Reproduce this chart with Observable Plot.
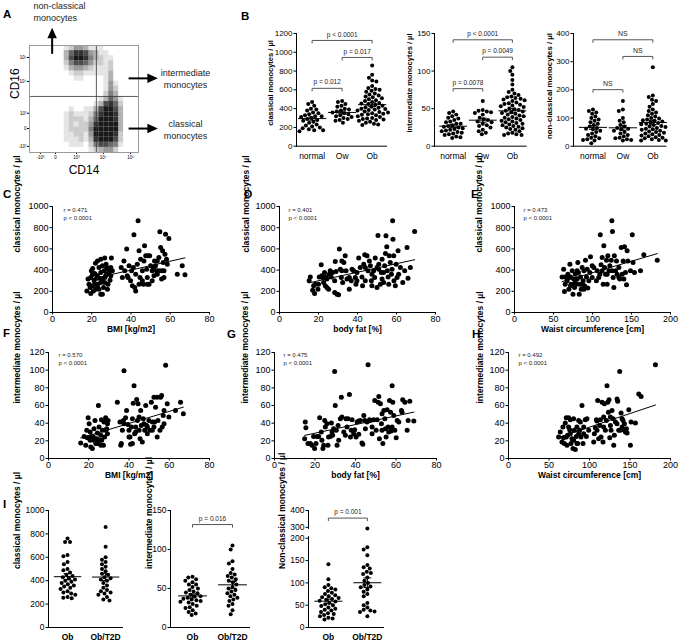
<!DOCTYPE html>
<html><head><meta charset="utf-8">
<script src="https://cdn.jsdelivr.net/npm/d3@7"></script>
<script src="https://cdn.jsdelivr.net/npm/@observablehq/plot@0.6"></script>
<style>
body{margin:0;background:#fff;}
#fig{position:relative;width:680px;height:643px;overflow:hidden;background:#fff;font-family:"Liberation Sans",Arial,sans-serif;}
.plet{position:absolute;font-weight:bold;font-size:11.5px;line-height:11.5px;font-family:"Liberation Sans",Arial,sans-serif;}
.vtitle{position:absolute;font-weight:bold;line-height:1;white-space:nowrap;transform:translate(-50%,-50%) rotate(-90deg);font-family:"Liberation Sans",Arial,sans-serif;color:#000;}
</style></head><body><div id="fig"></div>
<script>
// ================= DATA =================
// Panel A: flow cytometry density (rows top->bottom, cols left->right, 0-9)
const flowDensity = [
"0000000124431110000000",
"0000000368874311000000",
"0000000379985321100000",
"0000000257764221200000",
"0000000134432111200000",
"0000000012211111300000",
"0000000001100001300000",
"0000000000000001410000",
"0000000000000001420000",
"0000000000000002530000",
"0000000000000013641000",
"0000000000000137862000",
"0000000010011379973000",
"0000000121112589983000",
"0000000122213699983000",
"0000000121224899993000",
"0000000122225999993000",
"0000000112214999982000",
"0000000111213899972000",
"0000000011102577651000",
"0000000000001234420000"
];
const flowXTickPos = [2.2, 5.25, 9.5, 14.9, 20.4];
const flowXTickLab = ["-10³", "0", "10³", "10⁴", "10⁵"];
const flowYTickPos = [2.35, 7.06, 13.3, 16.3, 19.8];
const flowYTickLab = ["10⁵", "10⁴", "10³", "0", "-10³"];
const flowGateX = 13.5, flowGateY = 10.0;
const flowNotesLeft = [
  {x: 0.81, y: -7.65, t: "non-classical"},
  {x: 0.81, y: -5.3, t: "monocytes"}
];
const flowNotesCenter = [
  {x: 31.5, y: 5.5, t: "intermediate"},
  {x: 31.5, y: 7.85, t: "monocytes"},
  {x: 31.5, y: 15.5, t: "classical"},
  {x: 31.5, y: 17.86, t: "monocytes"}
];
const arrowShafts = [
  {x1: 4.57, y1: 1.63, x2: 4.57, y2: -1.6},
  {x1: 20.0, y1: 6.45, x2: 24.0, y2: 6.45},
  {x1: 20.0, y1: 16.3, x2: 24.0, y2: 16.3}
];
const arrowUpHeads = [{x: 4.57, y: -2.4}];
const arrowRightHeads = [{x: 24.8, y: 6.45}, {x: 24.8, y: 16.3}];

// Panel B: strip plots
const bGroups = ["normal", "Ow", "Ob"];
const bClassicalNormal = [470,450,430,400,390,380,360,350,340,330,320,320,310,300,290,280,270,260,250,230,220,210,200,190,180,170,170,160];
const bClassicalOw = [480,470,450,430,420,400,390,380,370,360,350,340,330,320,310,300,290,280,270,250];
const bClassicalOb = [860,760,730,700,690,640,620,610,600,590,580,560,550,540,530,520,510,500,490,480,470,460,455,450,440,430,420,415,410,400,395,390,385,380,370,365,360,350,345,340,335,330,320,310,300,295,290,285,280,270,260,250,240,230,225];
const bClassicalBrackets = [
  {a: 0, b: 2, v: 1126, t: "p < 0.0001"},
  {a: 1, b: 2, v: 945, t: "p = 0.017"},
  {a: 0, b: 1, v: 616, t: "p = 0.012"}
];
const bInterNormal = [46,44,42,40,38,37,35,33,32,30,30,28,27,26,25,24,23,22,21,20,19,18,17,16,15,13,12,11];
const bInterOw = [60,48,47,46,45,44,42,38,36,35,33,32,30,28,27,25,22,20,18,16];
const bInterOb = [105,100,95,88,82,75,72,70,68,66,65,64,63,62,61,60,58,57,56,55,54,53,52,50,49,48,47,46,45,44,43,42,41,40,39,38,37,36,35,34,33,32,31,30,29,28,27,26,25,24,23,22,20,18,17,16,15,15];
const bInterBrackets = [
  {a: 0, b: 2, v: 141.6, t: "p < 0.0001"},
  {a: 1, b: 2, v: 118.5, t: "p = 0.0049"},
  {a: 0, b: 1, v: 76.6, t: "p = 0.0078"}
];
const bNonNormal = [130,125,120,115,105,100,95,90,85,80,75,70,65,62,60,55,50,45,40,35,30,28,25,22,20,10];
const bNonOw = [160,130,125,100,90,85,75,70,65,62,60,55,50,45,40,35,30,28,25,22,20];
const bNonOb = [280,180,175,165,160,150,140,130,125,120,115,110,105,100,98,95,92,90,88,85,82,80,78,75,72,70,68,65,62,60,58,55,52,50,48,45,42,40,38,35,32,30,28,25,22,20,20];
const bNonBrackets = [
  {a: 0, b: 2, v: 377.7, t: "NS"},
  {a: 1, b: 2, v: 318.6, t: "NS"},
  {a: 0, b: 1, v: 200.7, t: "NS"}
];

// Panels C-H: scatter [x, y]
const cBmiClassical = [[17.5,204],[19.5,179],[20.3,252],[20.5,415],[21.9,465],[22.9,487],[24.6,503],[26.6,513],[30,513],[21.5,368],[22.4,324],[23.2,267],[23.7,220],[24.6,173],[25.4,173],[28,220],[28.3,267],[29.7,346],[30.5,393],[26.3,393],[27.6,425],[24.6,377],[22.9,346],[21.2,299],[19.5,330],[18.6,267],[18.1,315],[25.4,315],[26.6,283],[27.1,346],[28.8,377],[23.7,425],[25.4,440],[22,220],[20.8,204],[19.2,236],[24.6,283],[22.9,252],[29.3,305],[27.6,362],[20.3,355],[26,236],[28.3,409],[29.7,425],[26.6,330],[23.9,324],[21.7,267],[19.8,393],[27.3,456],[29,393],[36.4,487],[36.8,393],[37.8,598],[38.5,330],[39,440],[39.8,299],[40.3,393],[41.2,425],[41.5,733],[41.9,236],[42.4,362],[43.2,456],[43.6,865],[44.1,267],[44.6,330],[44.9,503],[45.8,393],[46.3,267],[46.9,629],[47.5,535],[48,409],[48.3,330],[48.6,535],[49.2,267],[50,440],[50.8,393],[51.4,425],[51.7,346],[52.5,440],[53,393],[53.4,487],[54.2,519],[54.7,761],[55.1,613],[55.6,315],[56.1,582],[56.4,472],[56.8,393],[57.3,550],[57.6,739],[58.1,503],[58.5,456],[59.3,698],[55.6,393],[53.4,362],[50.8,299],[48.3,267],[45.8,299],[42.4,204],[40.7,252],[38.1,346],[35,425],[35.6,330],[63.6,362],[66.1,440],[67.5,355],[49.5,535],[44.1,582],[46.6,487],[54.2,393],[52,487],[56.8,330]];
const dFatClassical = [[15.2,299],[15.8,336],[17,211],[18,179],[17.5,252],[19.7,220],[20.4,336],[21.4,450],[21.7,346],[22.6,283],[23.1,377],[23.8,336],[24.3,236],[25.2,220],[25.5,362],[26.5,336],[27.2,377],[28.3,189],[28.6,481],[29.5,173],[30.3,167],[30.7,598],[31.2,409],[31.7,330],[32,487],[32.4,283],[33,472],[33.7,535],[34.1,393],[35.8,220],[36.8,299],[37.2,409],[38,393],[38.9,330],[39.7,377],[40.6,513],[41.4,425],[42.3,336],[43.2,456],[43.7,544],[44,299],[44.9,535],[45.4,393],[46.1,487],[46.6,440],[47.4,252],[48.3,393],[48.8,330],[49.1,513],[50,236],[50.5,726],[50.9,409],[51.7,267],[52.2,377],[52.6,503],[53.4,283],[53.9,440],[54.3,557],[54.6,723],[55,620],[55.3,393],[55.7,336],[56.3,535],[56.8,472],[57.4,362],[58,865],[58.2,692],[58.6,535],[58.7,299],[59.4,252],[59.8,456],[60.3,330],[60.8,582],[61.1,362],[62,425],[63.2,283],[64.2,393],[65.4,613],[65.9,324],[67.1,425],[69.3,764],[52.6,315],[50,425],[47.4,362],[44,425],[39.7,299],[34.6,315],[32,393],[28.3,299],[23.5,252],[20,267],[57.7,409],[56,267],[53.4,377],[50.9,456],[47.1,299],[42.6,252],[39.2,267],[35.8,330],[29,387],[26,393],[24.3,315],[22.1,330],[18.3,267]];
const eWaistClassical = [[61,336],[63,409],[64,198],[65,267],[67.5,299],[68.4,362],[69.7,220],[71,456],[71.8,336],[72.6,267],[74,393],[75,173],[76,315],[77,236],[78,362],[79.5,267],[80.3,315],[81.2,472],[82,377],[83,173],[83.8,267],[84.6,336],[85.5,220],[86.8,425],[88,299],[89,393],[89.7,252],[91,493],[92.3,336],[93.2,409],[94,230],[96.6,377],[97.4,525],[99.6,330],[101.7,425],[105,299],[108,330],[109.4,362],[110,733],[111,450],[112.4,393],[113.7,267],[114.5,629],[115.4,425],[116.7,362],[118,493],[118.8,267],[119.7,535],[121,393],[122.2,440],[124,493],[124.8,865],[125.6,764],[126.5,330],[127.4,236],[128,535],[129.5,393],[130.8,487],[131.6,362],[133.8,425],[135,315],[136.8,613],[138,362],[139.3,487],[140.2,315],[141,620],[142.3,377],[143.6,261],[144.4,582],[145.3,487],[148.7,393],[151,733],[152,472],[153.8,377],[161.5,393],[165.8,544],[183,493],[106,393],[99.6,440],[112.4,519],[118.8,362],[125,393],[133.8,330],[86.8,267],[78,299],[71.8,252],[67.5,336],[80.3,393],[95.3,299],[89,220],[76,267],[65,336]];
const fBmiInter = [[16,17.6],[18.5,15],[19.3,23.6],[19.7,46],[20.2,39.4],[20.7,30],[21,13],[21.8,11.2],[22.3,24.4],[22.6,33.7],[23.5,16.9],[24,22.5],[24.3,28.9],[24.8,60],[25.1,35.6],[25.6,20.6],[26,26.2],[26.3,43.9],[26.8,31.9],[27.3,15],[27.6,41.2],[27.9,24.4],[28.4,46],[28.9,33.7],[29.3,28.1],[29.6,43.1],[17.7,25],[19,31.9],[21.3,25],[23.1,43.1],[26.4,20.6],[28.4,31.9],[20.7,20.6],[24.3,16.9],[26,15],[22.6,20.6],[29.3,39.4],[34.2,63.7],[35.5,41.2],[36.2,16.9],[36.7,31.9],[37.2,43.1],[37.5,99.4],[38.3,46],[38.8,54.4],[39.5,38.6],[40,31.9],[40.5,24.4],[40.8,16.1],[41.2,35.6],[41.7,45],[42.1,62.6],[42.5,82.5],[42.8,28.1],[43.3,35.6],[43.8,66.7],[44.2,43.1],[44.5,61.9],[45,31.9],[45.5,22.5],[45.8,54.4],[46.1,37.5],[46.6,18.7],[47.1,45],[47.8,31.9],[48.3,60],[48.8,37.5],[49.1,28.1],[49.9,43.1],[50.4,31.9],[51.1,63.7],[51.6,41.2],[52.4,69.4],[52.7,41.2],[53.2,58.1],[54,69.4],[54.4,43.1],[55.4,31.9],[55.7,69.4],[56.2,71.2],[56.5,35.6],[57,48.7],[57.4,54.4],[58.2,105.7],[59,61.9],[59.8,46.9],[65.6,63.7],[63.1,54.4],[67,50.6],[54,24.4],[51.6,31.9],[47.4,39.4],[43.3,30],[40,24.4],[37.5,39.4],[35.9,15],[41.7,16.9],[45,46.9],[49.1,35.6],[52.4,35.6],[57.4,39.4]];
const gFatInter = [[14.9,22.5],[15.2,41.2],[15.5,34.9],[16.5,16.9],[17.7,16.9],[18.5,15],[19.3,25],[19.8,11.2],[20.5,16.9],[21,25],[21.8,25],[22.3,46],[23.1,30],[23.4,20.6],[23.9,11.2],[24.3,15],[24.8,43.1],[25.1,35.6],[25.9,39.4],[26.4,15],[26.7,24.4],[27.6,25],[28.1,40.1],[28.4,30],[28.7,26.2],[29.2,33.7],[29.7,98.6],[30,60],[30.5,31.9],[30.9,15],[31.4,37.5],[31.7,20.6],[32.5,45],[33,69.4],[33.3,46.9],[34.2,30],[35,26.2],[35.3,45],[36.3,45],[37,72.4],[37.5,24.4],[37.9,31.9],[38.3,43.9],[39.1,28.1],[39.6,32.6],[40.3,24.4],[40.8,41.2],[41.6,42.4],[42.4,43.1],[43.2,17.6],[43.6,16.1],[44.1,48.7],[44.6,43.1],[44.9,33.7],[45.7,41.2],[46.2,106],[46.9,43.9],[47.4,43.1],[48.2,35.6],[49,43.9],[49.5,65.6],[50.2,31.9],[50.7,43.9],[51.2,63.7],[51.5,70.1],[51.8,22.5],[52.3,61.9],[52.8,39.4],[53.1,50.6],[53.5,16.9],[54,54.4],[54.5,45],[54.8,33.7],[55.1,24.4],[55.6,55.1],[56.1,35.6],[56.4,30],[56.8,65.6],[57.3,52.5],[57.6,31.1],[58.1,82.5],[58.4,63.7],[58.9,48.7],[59.4,31.9],[60.1,23.6],[60.6,43.1],[61.4,41.2],[62.7,54.4],[63.3,66.4],[64.4,63.7],[65.5,31.9],[66,43.1],[66.8,64.9],[68.8,42.4],[63,52.5],[58.1,35.6],[53.1,31.9],[48.2,28.1],[41.6,27.4],[35.8,35.6]];
const hWaistInter = [[61.9,24.4],[63.9,30],[66,18.7],[67.2,35.6],[68,23.6],[68.9,16.9],[70.1,40.1],[71.3,46],[72.2,15],[73,26.2],[74.2,46],[75.5,32.6],[76.3,43.9],[77.1,16.9],[78.4,22.5],[79.6,11.2],[80.4,45],[81.2,31.9],[82.5,10.1],[83.7,25],[84.5,35.6],[85.4,16.9],[86.6,43.1],[87.8,31.9],[88.7,41.2],[89.5,24.4],[90.7,60],[92,16.9],[92.8,35.6],[94.8,43.9],[96.1,25],[96.9,45],[99,31.9],[105.2,18.7],[106,28.1],[107.2,34.9],[108.5,43.9],[109.3,42.4],[110.1,65.6],[111.3,22.5],[112.6,37.5],[113.4,43.9],[114.2,24.4],[115.5,63.7],[116.7,18.7],[117.5,35.6],[118.4,61.9],[119.6,31.9],[120.8,43.1],[121.6,82.5],[122.5,63.7],[123.3,52.5],[124.1,66.4],[125,23.6],[125.8,37.5],[126.6,31.9],[127.8,54.4],[129.1,45],[129.9,15],[130.7,26.2],[132,41.2],[134,67.5],[134.8,64.9],[136.1,31.9],[137.3,98.6],[138.1,31.9],[139,51.4],[140.2,35.6],[141.4,43.1],[142.3,32.6],[143.1,39.4],[144.3,30],[145.6,33.7],[146.4,28.9],[148.5,55.1],[150.5,15],[151.3,41.2],[156.7,40.1],[160.8,73.1],[163.7,70.1],[181.4,106],[71.3,24.4],[76.3,28.1],[80.4,20.6],[86.6,28.1],[92.8,28.1],[84.5,16.9],[74.2,35.6],[109.3,31.9],[117.5,46.9],[125.8,46.9],[134,39.4],[140.2,45]];

// Panel I
const iGroups = ["Ob", "Ob/T2D"];
const iClassicalOb = [760,730,730,620,610,560,540,500,490,470,450,440,430,420,410,400,390,380,370,360,350,340,330,310,300,290,280,260,255,250];
const iClassicalT2D = [860,690,600,580,560,540,520,500,480,460,450,430,420,410,400,380,360,340,320,310,300,290,280,260,240,230];
const iInterOb = [65,64,62,60,58,55,55,52,50,48,46,45,44,42,40,40,38,37,36,35,34,33,32,30,28,26,25,22,20,18,16];
const iInterT2D = [105,100,85,82,75,70,68,66,64,62,60,58,55,52,50,48,46,44,42,40,38,36,34,30,28,22,17];
const iInterBrackets = [{a: 0, b: 1, v: 132, t: "p = 0.016"}];
const iNonOb = [142,108,95,90,88,85,82,78,75,72,70,68,66,64,62,60,58,55,52,50,48,45,42,40,38,35,32,30,28,25,22,20,18];
const iNonT2D = [290,180,175,162,140,135,132,125,122,120,112,105,100,95,92,90,85,80,75,70,55,50,45,40,38,36,35,25];
const iNonBrackets = [{a: 0, b: 1, v: 355, t: "p = 0.001"}];
const iNonTicks = [0, 50, 100, 150, 200, 300, 400];

// ================= DRAWING =================
const fig = document.getElementById("fig");
const FONT = '"Liberation Sans", Arial, sans-serif';
const fmt = d => String(Math.round(d));
const baseStyle = fs => ({fontFamily: FONT, fontSize: fs + "px", color: "black", background: "transparent", overflow: "visible"});
function place(svg, left, top) {
  svg.style.position = "absolute";
  svg.style.left = left + "px";
  svg.style.top = top + "px";
  fig.appendChild(svg);
}
function letter(t, x, y) {
  const d = document.createElement("div");
  d.className = "plet"; d.textContent = t;
  d.style.left = x + "px"; d.style.top = y + "px";
  fig.appendChild(d);
}
// rotated axis title centred on (x, y)
function vtitle(t, x, y, fs) {
  const d = document.createElement("div");
  d.className = "vtitle"; d.textContent = t;
  d.style.left = x + "px"; d.style.top = y + "px"; d.style.fontSize = fs + "px";
  fig.appendChild(d);
}

// custom filled triangles for arrow heads
const triUp = {draw(ctx, size) { const s = Math.sqrt(size / Math.PI); ctx.moveTo(0, -1.1 * s); ctx.lineTo(0.95 * s, s); ctx.lineTo(-0.95 * s, s); ctx.closePath(); }};
const triRight = {draw(ctx, size) { const s = Math.sqrt(size / Math.PI); ctx.moveTo(1.1 * s, 0); ctx.lineTo(-s, -0.95 * s); ctx.lineTo(-s, 0.95 * s); ctx.closePath(); }};

// ---- Panel A ----
(function () {
  const cells = [];
  flowDensity.forEach((row, r) => [...row].forEach((ch, c) => { const d = +ch; if (d > 0) cells.push({c, r, d}); }));
  const svg = Plot.plot({
    width: 230, height: 185, marginLeft: 29, marginTop: 45, marginRight: 92, marginBottom: 33,
    style: baseStyle(4.5),
    x: {domain: [0, 22], ticks: flowXTickPos, tickFormat: d => flowXTickLab[flowXTickPos.indexOf(d)], tickSize: 2, tickPadding: 1, label: null},
    y: {domain: [0, 21], reverse: true, ticks: flowYTickPos, tickFormat: d => flowYTickLab[flowYTickPos.indexOf(d)], tickSize: 2, tickPadding: 1, label: null},
    marks: [
      Plot.rect(cells, {x1: "c", x2: d => d.c + 1, y1: "r", y2: d => d.r + 1, fill: "black", fillOpacity: d => d.d / 10}),
      Plot.ruleX([flowGateX], {stroke: "#333", strokeWidth: 0.8}),
      Plot.ruleY([flowGateY], {stroke: "#333", strokeWidth: 0.8}),
      Plot.frame({stroke: "#9a9a9a"}),
      Plot.link(arrowShafts, {x1: "x1", y1: "y1", x2: "x2", y2: "y2", stroke: "black", strokeWidth: 2}),
      Plot.dot(arrowUpHeads, {x: "x", y: "y", r: 5, symbol: triUp, fill: "black"}),
      Plot.dot(arrowRightHeads, {x: "x", y: "y", r: 5, symbol: triRight, fill: "black"}),
      Plot.text(flowNotesLeft, {x: "x", y: "y", text: "t", textAnchor: "start", fontSize: 9, fill: "#222"}),
      Plot.text(flowNotesCenter, {x: "x", y: "y", text: "t", textAnchor: "middle", fontSize: 9, fill: "#222"}),
      Plot.text(["CD16"], {frameAnchor: "left", text: d => d, rotate: -90, dx: -14, fontSize: 12, fill: "black"}),
      Plot.text(["CD14"], {frameAnchor: "bottom", text: d => d, dy: 21, fontSize: 12, fill: "black"})
    ]
  });
  place(svg, 0, 0);
})();

// ---- strip plots (B, I) ----
// yf: optional axis-break transform applied to every y value (identity by default)
function strip(o) {
  const mL = 50, mR = 12, mT = 30, mB = 22;
  const W = o.fx1 - o.fx0, H = o.fy1 - o.fy0;
  const yf = o.yf || (v => v);
  const [a, b] = o.xdom;
  const dxOf = i => ((i - a) / (b - a) - 0.5) * W;
  const ydom = [yf(o.ydom[0]), yf(o.ydom[1])];
  const ys = d3.scaleLinear().domain(ydom).range([mT + H, mT]);
  const dropT = v => ys.invert(ys(v) + 3);
  const stats = o.groups.map((g, i) => {
    const m = d3.mean(g), se = d3.deviation(g) / Math.sqrt(g.length);
    return {i, mean: yf(m), lo: yf(m - se), hi: yf(m + se)};
  });
  const br = (o.brackets || []).map(d => ({...d, v: yf(d.v)}));
  const tickT = o.yticks.map(yf);
  const marks = [
    ...(o.extraMarks || []),
    Plot.ruleY([ydom[0]], {stroke: "black"}),
    ...o.groups.map((g, i) => Plot.dot(g, Plot.dodgeX({anchor: "middle", padding: 0.3, r: o.r}, {y: d => yf(d), r: o.r, fill: "black", dx: dxOf(i)}))),
    Plot.link(stats, {x1: d => d.i - o.meanHalf, x2: d => d.i + o.meanHalf, y1: "mean", y2: "mean", stroke: "black", strokeWidth: 1}),
    Plot.link(stats, {x1: "i", x2: "i", y1: "lo", y2: "hi", stroke: "black"}),
    Plot.link(stats, {x1: d => d.i - o.capHalf, x2: d => d.i + o.capHalf, y1: "lo", y2: "lo", stroke: "black"}),
    Plot.link(stats, {x1: d => d.i - o.capHalf, x2: d => d.i + o.capHalf, y1: "hi", y2: "hi", stroke: "black"}),
    Plot.text(o.labels, {x: (d, i) => i, y: ydom[0], dy: 10, text: d => d, fontWeight: o.labelWeight, fontSize: 8.5}),
    Plot.link(br, {x1: "a", x2: "b", y1: "v", y2: "v", stroke: "#555"}),
    Plot.link(br, {x1: "a", x2: "a", y1: "v", y2: d => dropT(d.v), stroke: "#555"}),
    Plot.link(br, {x1: "b", x2: "b", y1: "v", y2: d => dropT(d.v), stroke: "#555"}),
    Plot.text(br, {x: d => (d.a + d.b) / 2, y: "v", dy: -6, text: "t", fontSize: o.brFont || 6.5, fill: "#222"}),
    ...(o.ytitle ? [Plot.text([o.ytitle], {frameAnchor: "left", text: d => d, rotate: -90, dx: o.ytitleX - o.fx0, dy: o.ytitleDy || 0, fontWeight: "bold", fontSize: o.ytitleFont || 7.5})] : [])
  ];
  const svg = Plot.plot({
    width: W + mL + mR, height: H + mT + mB, marginLeft: mL, marginRight: mR, marginTop: mT, marginBottom: mB,
    style: baseStyle(o.tickFont || 8.5),
    x: {domain: o.xdom, axis: null},
    y: {domain: ydom, ticks: tickT, tickFormat: t => fmt(o.yticks[tickT.indexOf(t)]), tickSize: 2.5, tickPadding: 1.5, line: !o.noLine, label: null},
    marks
  });
  place(svg, o.fx0 - mL, o.fy0 - mT);
}

strip({fx0: 296, fx1: 387, fy0: 33.3, fy1: 146, xdom: [-0.52, 2.51], ydom: [0, 1200], yticks: d3.range(0, 1201, 200), tickFont: 8,
  groups: [bClassicalNormal, bClassicalOw, bClassicalOb], labels: bGroups, labelWeight: "normal", r: 2,
  meanHalf: 0.47, capHalf: 0.13, brackets: bClassicalBrackets, ytitle: null});
strip({fx0: 434.3, fx1: 527, fy0: 33.3, fy1: 146, xdom: [-0.63, 2.5], ydom: [0, 150], yticks: [0, 50, 100, 150], tickFont: 8,
  groups: [bInterNormal, bInterOw, bInterOb], labels: bGroups, labelWeight: "normal", r: 2,
  meanHalf: 0.47, capHalf: 0.13, brackets: bInterBrackets, ytitle: null});
strip({fx0: 573.3, fx1: 666.7, fy0: 33.3, fy1: 146, xdom: [-0.65, 2.47], ydom: [0, 400], yticks: [0, 100, 200, 300, 400], tickFont: 8,
  groups: [bNonNormal, bNonOw, bNonOb], labels: bGroups, labelWeight: "normal", r: 2,
  meanHalf: 0.47, capHalf: 0.13, brackets: bNonBrackets, brFont: 7, ytitle: null});
vtitle("classical monocytes / µl", 270.5, 83, 7.5);
vtitle("intermediate monocytes / µl", 410, 83, 7.5);
vtitle("non-classical monocytes / µl", 550, 86, 7.8);

strip({fx0: 48, fx1: 123, fy0: 510, fy1: 627, xdom: [-0.5, 1.47], ydom: [0, 1000], yticks: d3.range(0, 1001, 200),
  groups: [iClassicalOb, iClassicalT2D], labels: iGroups, labelWeight: "bold", r: 2,
  meanHalf: 0.36, capHalf: 0.1, ytitle: "classical monocytes / µl", ytitleX: 17, ytitleFont: 8.5});
strip({fx0: 170, fx1: 250, fy0: 510, fy1: 627, xdom: [-0.55, 1.45], ydom: [0, 150], yticks: [0, 50, 100, 150],
  groups: [iInterOb, iInterT2D], labels: iGroups, labelWeight: "bold", r: 2,
  meanHalf: 0.36, capHalf: 0.1, brackets: iInterBrackets, ytitle: "intermediate monocytes / µl", ytitleX: 148.5, ytitleFont: 8.5});
// broken axis: 0-200 uses 90px, 200-300 uses 11px, 300-400 uses 17px
const brk = v => v <= 200 ? v : v <= 300 ? 200 + (v - 200) * (11 / 45) : 200 + 11 / 0.45 + (v - 300) * (17 / 45);
strip({fx0: 308, fx1: 384, fy0: 510, fy1: 627, xdom: [-0.51, 1.44], ydom: [0, 400], yf: brk,
  yticks: iNonTicks, noLine: true,
  extraMarks: [
    Plot.ruleX([-0.51], {y1: brk(0), y2: brk(215), stroke: "black"}),
    Plot.ruleX([-0.51], {y1: brk(280), y2: brk(400), stroke: "black"})
  ],
  groups: [iNonOb, iNonT2D], labels: iGroups, labelWeight: "bold", r: 2,
  meanHalf: 0.36, capHalf: 0.1, brackets: iNonBrackets, ytitle: "Non-classical monocytes / µl", ytitleX: 281.7, ytitleFont: 8.5});

// ---- scatter plots (C-H) ----
function scatter(o) {
  const mL = 50, mR = 15, mT = 15, mB = 30;
  const W = o.fx1 - o.fx0, H = o.fy1 - o.fy0;
  const svg = Plot.plot({
    width: W + mL + mR, height: H + mT + mB, marginLeft: mL, marginRight: mR, marginTop: mT, marginBottom: mB,
    style: baseStyle(9),
    x: {domain: o.xdom, ticks: o.xticks, tickFormat: fmt, tickSize: 2.5, tickPadding: 1, line: true, label: null},
    y: {domain: o.ydom, ticks: o.yticks, tickFormat: fmt, tickSize: 2.5, tickPadding: 1.5, line: true, label: null},
    marks: [
      Plot.linearRegressionY(o.data, {x: d => d[0], y: d => d[1], ci: 0, stroke: "black", strokeWidth: 1}),
      Plot.dot(o.data, {x: d => d[0], y: d => d[1], r: 2.5, fill: "black"}),
      Plot.text([o.stat], {frameAnchor: "top-left", text: d => d, dx: o.statDx, dy: o.statDy, textAnchor: "start", lineAnchor: "top", fontSize: 6, lineHeight: 1.3, fill: "#222"}),
      Plot.text([o.ytitle], {frameAnchor: "left", text: d => d, rotate: -90, dx: o.ytitleX - o.fx0, dy: o.ytitleDy, fontWeight: "bold", fontSize: 8.5}),
      Plot.text([o.xtitle], {frameAnchor: "bottom", text: d => d, dy: o.xtitleY - o.fy1, fontWeight: "bold", fontSize: 8.5})
    ]
  });
  place(svg, o.fx0 - mL, o.fy0 - mT);
}
const t80 = [0, 20, 40, 60, 80], t200 = [0, 50, 100, 150, 200];
const tc = d3.range(0, 1001, 200), ti = d3.range(0, 121, 20);
scatter({fx0: 52, fx1: 209, fy0: 206, fy1: 312, xdom: [0, 80], xticks: t80, ydom: [0, 1000], yticks: tc, data: cBmiClassical,
  stat: "r = 0.471\np < 0.0001", statDx: 11, statDy: 0, ytitle: "classical monocytes / µl", ytitleX: 17, ytitleDy: -7, xtitle: "BMI [kg/m2]", xtitleY: 331});
scatter({fx0: 279, fx1: 435, fy0: 206, fy1: 312, xdom: [0, 80], xticks: t80, ydom: [0, 1000], yticks: tc, data: dFatClassical,
  stat: "r = 0.401\np < 0.0001", statDx: 9, statDy: 0, ytitle: "classical monocytes / µl", ytitleX: 246, ytitleDy: -7, xtitle: "body fat [%]", xtitleY: 331});
scatter({fx0: 514, fx1: 670, fy0: 206, fy1: 312, xdom: [0, 200], xticks: t200, ydom: [0, 1000], yticks: tc, data: eWaistClassical,
  stat: "r = 0.473\np < 0.0001", statDx: 9, statDy: 0, ytitle: "classical monocytes / µl", ytitleX: 479, ytitleDy: -7, xtitle: "Waist circumference [cm]", xtitleY: 331});
scatter({fx0: 48, fx1: 209, fy0: 352, fy1: 458, xdom: [0, 80], xticks: t80, ydom: [0, 120], yticks: ti, data: fBmiInter,
  stat: "r = 0.570\np < 0.0001", statDx: 10, statDy: -1, ytitle: "intermediate monocytes / µl", ytitleX: 17, ytitleDy: -2, xtitle: "BMI [kg/m2]", xtitleY: 477});
scatter({fx0: 274, fx1: 436, fy0: 352, fy1: 458, xdom: [0, 80], xticks: t80, ydom: [0, 120], yticks: ti, data: gFatInter,
  stat: "r = 0.475\np < 0.0001", statDx: 9, statDy: -1, ytitle: "intermediate monocytes / µl", ytitleX: 245, ytitleDy: -2, xtitle: "body fat [%]", xtitleY: 477});
scatter({fx0: 508, fx1: 670, fy0: 352, fy1: 458, xdom: [0, 200], xticks: t200, ydom: [0, 120], yticks: ti, data: hWaistInter,
  stat: "r = 0.492\np < 0.0001", statDx: 10, statDy: -1, ytitle: "intermediate monocytes / µl", ytitleX: 480, ytitleDy: -2, xtitle: "Waist circumference [cm]", xtitleY: 477});

// ---- panel letters ----
letter("A", 3, 8.5); letter("B", 241, 11); letter("C", 3, 188.5); letter("D", 244, 188.5); letter("E", 471, 188.5);
letter("F", 3, 327.5); letter("G", 227, 328.5); letter("H", 472, 328.5); letter("I", 3, 498.5);
</script>
</body></html>
